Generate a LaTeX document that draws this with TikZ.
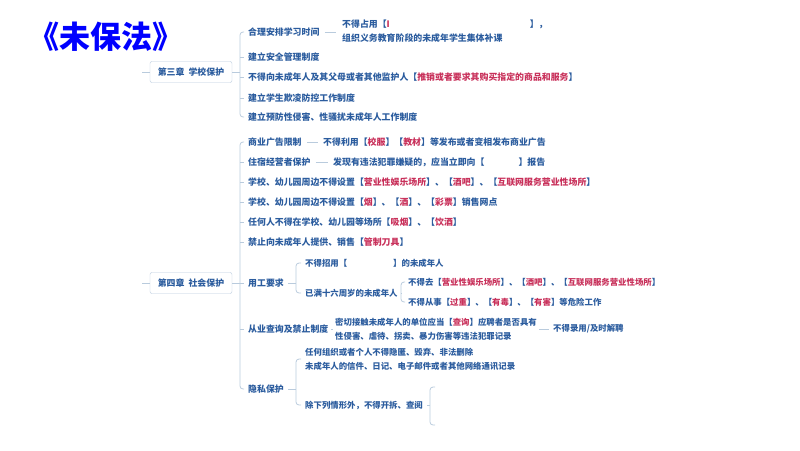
\documentclass[tikz,border=0pt]{standalone}
\usepackage{fontspec}
\newfontfamily\cjk{Noto Sans CJK SC}
\newcommand{\Rd}[1]{\textcolor{redt}{#1}}
\definecolor{bluet}{HTML}{2B5C9E}
\definecolor{redt}{HTML}{C8305A}
\definecolor{linec}{HTML}{B9CBDD}
\begin{document}
\begin{tikzpicture}[x=1pt,y=-1pt,
  it/.style={anchor=west,inner sep=0pt,font=\cjk\bfseries\fontsize{8.9}{14}\selectfont,text=bluet,align=left},
  its/.style={it,font=\cjk\bfseries\fontsize{8.4}{14}\selectfont},
  chap/.style={draw=linec,rounded corners=2pt,fill=white,minimum width=82pt,minimum height=21pt,font=\cjk\bfseries\fontsize{8.9}{11}\selectfont,text=bluet},
  ln/.style={draw=linec,line width=0.8pt},
  br/.style={draw=linec,line width=0.8pt,rounded corners=3pt}]
\useasboundingbox (0,0) rectangle (800,450);
\node[anchor=west,inner sep=0pt,font=\cjk\bfseries\fontsize{31}{34}\selectfont,text=blue] (title) at (28,37) {《未保法》};

% chapter 3
\node[chap] (c3) at (191,72) {第三章\ \ 学校保护};
\draw[ln] (142,72) -- (c3.west);
\node[it] (a1) at (248,32) {合理安排学习时间};
\node[it] (a1b) at (342,31) {不得占用【\textcolor{redt}{I}\hspace{140pt}】，\\组织义务教育阶段的未成年学生集体补课};
\draw[ln] ([xshift=5pt]a1.east) -- ([xshift=-6pt]a1b.west |- a1.east);
\node[it] (a2) at (248,57) {建立安全管理制度};
\node[it] (a3) at (248,77) {不得向未成年人及其父母或者其他监护人【\Rd{推销或者要求其购买指定的商品和服务}】};
\node[it] (a4) at (248,98) {建立学生欺凌防控工作制度};
\node[it] (a5) at (248,117) {建立预防性侵害、性骚扰未成年人工作制度};
\draw[ln] (c3.east) -- (240,72);
\draw[br] (244,32) -- (240,32) -- (240,117) -- (244,117);
\foreach \n in {a2,a3,a4} \draw[ln] (240,0 |- \n.west) -- ++(4,0);

% chapter 4
\node[chap] (c4) at (191,283) {第四章\ \ 社会保护};
\draw[ln] (142,283) -- (c4.west);
\draw[ln] (c4.east) -- (240,283);
\node[it] (b1) at (248,142) {商业广告限制};
\node[it] (b1b) at (323,142) {不得利用【\Rd{校服}】【\Rd{教材}】等发布或者变相发布商业广告};
\draw[ln] ([xshift=5pt]b1.east) -- ([xshift=-5pt]b1b.west);
\node[it] (b2) at (248,162) {住宿经营者保护};
\node[it] (b2b) at (333,162) {发现有违法犯罪嫌疑的，应当立即向【\hspace{34pt}】报告};
\draw[ln] ([xshift=5pt]b2.east) -- ([xshift=-5pt]b2b.west);
\node[it] (b3) at (248,182) {学校、幼儿园周边不得设置【\Rd{营业性娱乐场所}】、【\Rd{酒吧}】、【\Rd{互联网服务营业性场所}】};
\node[it] (b4) at (248,202) {学校、幼儿园周边不得设置【\Rd{烟}】、【\Rd{酒}】、【\Rd{彩票}】销售网点};
\node[it] (b5) at (248,222) {任何人不得在学校、幼儿园等场所【\Rd{吸烟}】、【\Rd{饮酒}】};
\node[it] (b6) at (248,242) {禁止向未成年人提供、销售【\Rd{管制刀具}】};
\node[it] (b7) at (248,283) {用工要求};
\node[its] (b7a) at (305,263) {不得招用【\hspace{46pt}】的未成年人};
\node[its] (b7b) at (305,293) {已满十六周岁的未成年人};
\node[its] (b7b1) at (408,282) {不得去【\Rd{营业性娱乐场所}】、【\Rd{酒吧}】、【\Rd{互联网服务营业性场所}】};
\node[its] (b7b2) at (408,302) {不得从事【\Rd{过重}】、【\Rd{有毒}】、【\Rd{有害}】等危险工作};
\node[it] (b8) at (248,329) {从业查询及禁止制度};
\node[its] (b8b) at (335,329) {密切接触未成年人的单位应当【\Rd{查询}】应聘者是否具有\\性侵害、虐待、拐卖、暴力伤害等违法犯罪记录};
\node[its] (b8c) at (553,329) {不得录用/及时解聘};
\draw[ln] ([xshift=4pt]b8.east) -- ([xshift=-4pt]b8b.west);
\draw[ln] (539,329) -- ([xshift=-4pt]b8c.west);
\node[it] (b9) at (248,389) {隐私保护};
\node[its] (b9a) at (305,359) {任何组织或者个人不得隐匿、毁弃、非法删除\\未成年人的信件、日记、电子邮件或者其他网络通讯记录};
\node[its] (b9b) at (305,405) {除下列情形外，不得开拆、查阅};

\draw[br] (244,142) -- (240,142) -- (240,389) -- (244,389);
\foreach \n in {b2,b3,b4,b5,b6,b7,b8} \draw[ln] (240,0 |- \n.west) -- ++(4,0);
% 用工 bracket
\draw[ln] ([xshift=4pt]b7.east) -- (296,283);
\draw[br] (301,263) -- (296,263) -- (296,293) -- (301,293);
\draw[ln] ([xshift=4pt]b7b.east) -- (401,293);
\draw[br] (405,282) -- (401,282) -- (401,302) -- (405,302);
% 隐私 bracket
\draw[ln] ([xshift=4pt]b9.east) -- (296,389);
\draw[br] (301,359) -- (296,359) -- (296,405) -- (301,405);
\draw[ln] ([xshift=4pt]b9b.east) -- (430,405);
\draw[br] (435,387) -- (430,387) -- (430,425) -- (435,425);
\end{tikzpicture}
\end{document}
